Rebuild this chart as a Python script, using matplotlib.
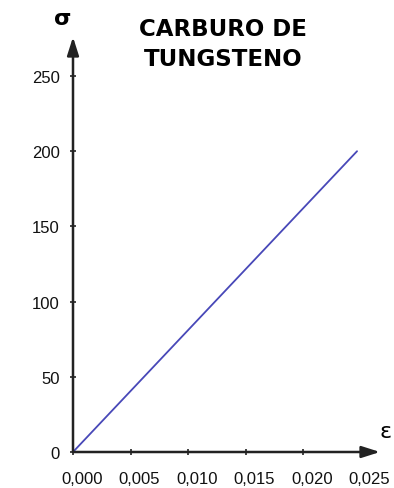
import matplotlib.pyplot as plt
import matplotlib.transforms as mtransforms

# data
strain = [0.0, 0.0247]
stress = [0.0, 200.0]
x_ticks = [0.000, 0.005, 0.010, 0.015, 0.020, 0.025]
x_labels = ['0,000', '0,005', '0,010', '0,015', '0,020', '0,025']
y_ticks = [0, 50, 100, 150, 200, 250]
title_lines = ['CARBURO DE', 'TUNGSTENO']

plt.rcParams['font.family'] = ['Liberation Sans', 'DejaVu Sans']

W, H = 394, 489
fig = plt.figure(figsize=(W / 100, H / 100), dpi=100)
# axes box in pixels: origin (73, 453), right end 380, top 38
ax = fig.add_axes([73 / W, (H - 453) / H, (380 - 73) / W, (453 - 38) / H])
ax.set_xlim(0, (380 - 73) / 57.5 * 0.005)
ax.set_ylim(0, (453 - 38) / 75.2 * 50)

ax.plot(strain, stress, color='#4848b8', lw=1.3, solid_capstyle='round', zorder=3)

for s in ax.spines.values():
    s.set_visible(False)

ax.set_xticks(x_ticks)
ax.set_xticklabels(x_labels)
ax.set_yticks(y_ticks)
ax.tick_params(axis='both', direction='inout', length=5, width=1.2, color='#222222',
               labelsize=12, labelcolor='#111111')
ax.tick_params(axis='x', pad=11)
ax.tick_params(axis='y', pad=7)
offset = mtransforms.ScaledTranslation(9 / 100, 0, fig.dpi_scale_trans)
for lab in ax.get_xticklabels():
    lab.set_transform(lab.get_transform() + offset)

# axes with arrowheads
for tip in [(1.0, 0), (0, 1.0)]:
    ax.annotate('', xy=tip, xytext=(0, 0), xycoords='axes fraction',
                textcoords='axes fraction',
                arrowprops=dict(arrowstyle='-|>,head_length=1.1,head_width=0.35',
                                color='#222222', lw=1.8, shrinkA=0, shrinkB=0),
                zorder=5, annotation_clip=False)

fig.text(63 / W, 1 - 19 / H, 'σ', ha='center', va='center', fontsize=16,
         fontweight='bold', family=['DejaVu Sans'])
fig.text(386 / W, 1 - 432 / H, 'ε', ha='center', va='center', fontsize=16,
         family=['DejaVu Sans'])
fig.text(223 / W, 1 - 29 / H, title_lines[0], ha='center', va='center',
         fontsize=16.5, fontweight='bold', family=['DejaVu Sans'])
fig.text(223 / W, 1 - 60 / H, title_lines[1], ha='center', va='center',
         fontsize=16.5, fontweight='bold', family=['DejaVu Sans'])

fig.savefig('out.png', dpi=100)
